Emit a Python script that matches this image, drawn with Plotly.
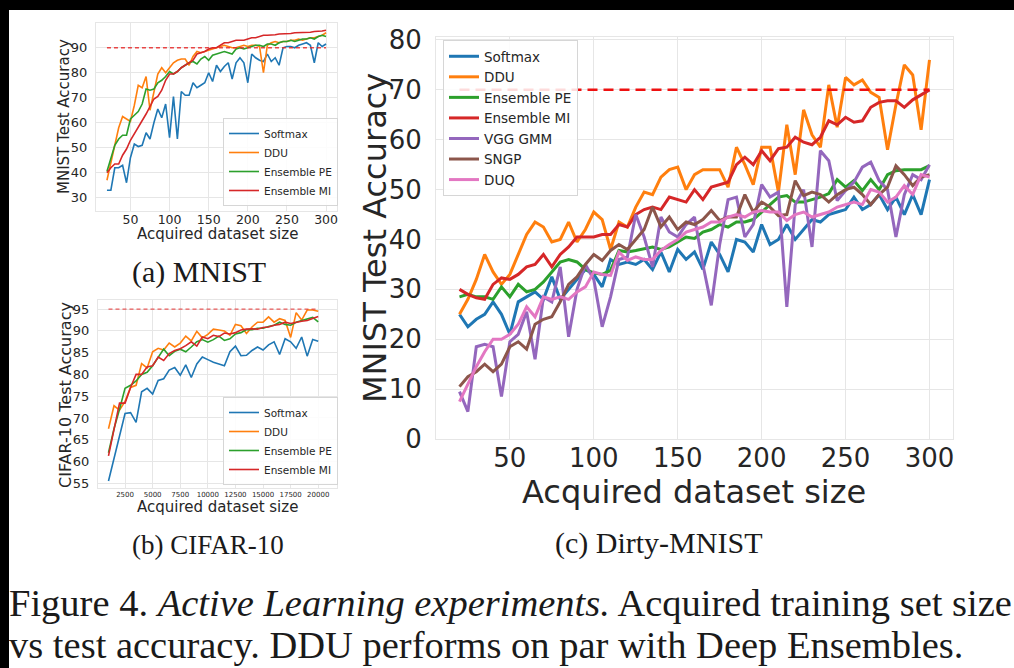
import plotly.graph_objects as go

# ---------------- data ----------------
mnist_x = list(range(20, 301, 5))
mnist_softmax = [33, 33, 42, 42, 43, 36, 46, 51.5, 50.5, 51,
                 56, 53.5, 60, 65.5, 62, 67.5, 54, 70.5, 53.5, 72.5,
                 71, 71, 76, 74, 75, 76, 80, 76.5, 83, 80.5,
                 82.5, 84, 77.5, 84, 86, 84, 76, 87.5, 86, 85,
                 84.5, 87.5, 84.5, 86, 83, 90, 90.5, 90.5, 90, 91,
                 91.5, 92, 91, 84, 92, 90.5, 91.5]
mnist_ddu = [37, 44, 52, 58, 62.5, 61.5, 60.5, 67, 75, 74,
             78.5, 65, 73, 79.5, 82, 80, 82, 84, 85, 85.5,
             85.5, 83, 86.5, 88.5, 88, 88.5, 89, 89.5, 90, 90.5,
             91, 90.5, 90, 90, 90.5, 91, 90.5, 91, 91, 90.5,
             80, 91, 92, 92.5, 92, 92.5, 92.5, 93, 93, 93.5,
             93, 93.5, 94, 94, 94.5, 95, 96]
mnist_ens_pe = [40.5, 46, 51, 53.5, 55, 55, 61.5, 63, 64.5, 67.5,
                73.5, 73, 73.5, 76, 77, 78.5, 80.5, 79.5, 80.5, 82,
                83, 84, 84.5, 83.5, 85.5, 86.5, 85, 87, 87.5, 88,
                88.5, 88, 87.5, 89.5, 90, 89.5, 90, 90.5, 91, 91,
                90.5, 91.5, 91.5, 91, 92, 92.5, 92.5, 93, 92.5, 93,
                93.5, 93.5, 94, 93.5, 94.5, 95, 94.5]
mnist_ens_mi = [40, 42, 43.5, 43.5, 47, 49.5, 53, 55.5, 58.5, 61,
                63.5, 66.5, 69.5, 70.5, 73, 77, 79.5, 79.5, 80.5, 82,
                83, 84, 85, 87.5, 88, 88.5, 89.5, 90, 90, 91,
                92, 92, 92.5, 93, 93, 93, 93.5, 94, 94, 94.5,
                95, 95, 95, 95.2, 95.5, 95.5, 95.5, 95.7, 96, 96,
                96, 96, 96.2, 96.5, 96.5, 96.7, 97]
mnist_target = 90

cifar_x = list(range(1000, 20001, 500))
cifar_softmax = [55.5, 60.5, 66, 71, 71.2, 69, 76, 76.8, 75.5, 78.6,
                 79, 81, 81.6, 79.8, 82.2, 79.3, 82.4, 84, 83.4, 82.8,
                 82.4, 82, 85.2, 86.5, 84.3, 84.4, 85.5, 86.3, 85.6, 86.8,
                 87.5, 84.6, 88.2, 87.5, 86, 88.6, 84.2, 88, 87.6]
cifar_ddu = [67.5, 72.8, 71.8, 73.8, 77, 77.5, 82.5, 81.5, 85.2, 86,
             85.6, 87.2, 86.3, 87.2, 88.8, 87.7, 89.9, 88.4, 89.2, 90.4,
             90.2, 90, 89, 91.5, 91.2, 89.4, 90.9, 92, 92, 93.2,
             92, 92.8, 92.4, 88.5, 94.2, 92.5, 94.8, 94.8, 94.5]
cifar_ens_pe = [62, 67.5, 72, 76.8, 77.5, 78.5, 80, 80.5, 82, 84,
                85.8, 84.3, 85.3, 85.8, 85.2, 86.3, 87.5, 88, 87.4, 88,
                88.8, 87.8, 88.2, 89.3, 89.6, 90.3, 90.3, 90.6, 90.6, 91,
                91.3, 92, 91.5, 91.3, 92, 92.4, 92.7, 93.1, 92.1]
cifar_ens_mi = [61.3, 67.5, 73.4, 73.4, 77, 80, 80, 81.7, 82, 84,
                83.2, 84.8, 85.5, 85.9, 86.6, 87.5, 86.5, 88.6, 88.2, 89,
                88.7, 89.5, 89.3, 89.6, 90.2, 90.4, 90.5, 90.4, 90.8, 90.9,
                91.3, 91.5, 92, 91.7, 92, 92.2, 92.4, 92.8, 93.3]
cifar_target = 95

dirty_x = list(range(20, 301, 5))
dirty_softmax = [25, 22.5, 24, 25, 27.5, 25, 21, 27.5, 28.5, 29.5,
                 28, 32.5, 28, 30, 32, 34, 33, 30.5, 36, 35,
                 35.5, 35, 36, 34, 37.5, 33.5, 38, 36, 37.5, 34,
                 39.5, 37, 33.5, 40, 39.5, 37.5, 43, 39, 40, 43,
                 40, 42, 44, 43.5, 45, 45.5, 46, 48.5, 46, 47,
                 49, 46, 48.5, 45, 49, 45, 52]
dirty_ddu = [25, 28, 32, 37, 33.5, 31, 33, 37, 41, 43.5,
             42.5, 39.5, 40, 43.5, 39.5, 42, 45.5, 44, 38, 43.5,
             42.5, 46.5, 49.5, 49, 52.5, 54, 54.5, 50, 53, 54,
             54, 54, 50.5, 58.5, 55, 51, 58.5, 58.5, 49.5, 63,
             53, 66, 61, 58.5, 71, 62.5, 72.5, 71, 72, 69.5,
             68.5, 58, 67, 75, 73, 62, 76]
dirty_ens_pe = [28.5, 29, 28.5, 28.5, 28, 30.5, 28.5, 31, 29.5, 30,
                31.5, 33.5, 35.5, 36, 35.5, 34, 33.3, 33, 33.8, 37.8,
                37.5, 37.8, 38.2, 38.5, 38, 38.5, 39.5, 40.5, 40.2, 41.5,
                42, 43, 42.5, 43.5, 43.5, 44, 45.5, 47, 48.5, 48.8,
                47.5, 47.5, 48, 48.5, 49.2, 52, 50.5, 51.8, 49.8, 52,
                50, 53, 53.8, 54, 54, 54, 54.8]
dirty_ens_mi = [30, 29, 28.3, 28, 31, 32.3, 32, 33, 34.5, 35,
                37, 34.5, 37, 38.5, 40.5, 40.5, 40.5, 41, 41, 43,
                42.5, 45, 46, 46.5, 46, 48.5, 48, 47.5, 50, 48,
                50.5, 51, 51.5, 55, 56.5, 55, 57.8, 55.8, 58.2, 58.5,
                60.5, 59.5, 59, 60.5, 63.8, 63, 64.5, 63.5, 63.8, 66.5,
                67.5, 67.8, 67.8, 66.5, 68, 69, 70]
dirty_vgg_gmm = [9.5, 5.5, 18.5, 19, 18.5, 8.5, 19.5, 21, 25.5, 16,
                 28.5, 27.5, 34.5, 20.5, 30, 35, 32, 22.5, 28.5, 36,
                 36.5, 45, 40.5, 34.5, 44.5, 41.5, 40.5, 43, 44.5, 35,
                 26.8, 39, 48, 48.5, 40.5, 43, 51, 48.5, 49.5, 26.5,
                 47, 50, 38.5, 57.8, 55.8, 47.8, 49.8, 51.5, 54.5, 55.5,
                 51.8, 50, 40.5, 49, 53, 52, 55]
dirty_sngp = [10.5, 12.5, 13.5, 15, 13.5, 15, 18.5, 19.5, 18, 23,
              24, 24.5, 27.5, 31, 32.5, 35, 37, 35.8, 37.8, 39,
              38, 40, 42, 46.5, 42.5, 44.5, 42, 43.5, 43, 44,
              45.8, 43.8, 44.5, 44.5, 49, 45.5, 47.5, 46.5, 44.8, 45,
              51.8, 48.8, 49.5, 49, 47.5, 49, 50, 50.5, 49, 47,
              49, 50.5, 54.8, 53, 50.8, 52.5, 53]
dirty_duq = [7.5, 11, 14.5, 17.5, 20, 20, 21, 23, 26.5, 24.5,
             28.5, 28, 28.5, 28, 29.5, 30.5, 33.5, 33, 32.8, 37.5,
             35.8, 36.5, 36, 36, 37.8, 39, 40, 41.5, 42, 42.5,
             43.5, 43.5, 44.5, 45, 44.5, 45.5, 45.8, 45.5, 45.5, 43.8,
             45, 45.5, 44.5, 45, 45.5, 46.5, 47, 47.5, 47, 50,
             49.5, 47.5, 48.5, 50.8, 49, 53, 52.5]
dirty_target = 70

mnist_yticks = [30, 40, 50, 60, 70, 80, 90]
mnist_xticks = [50, 100, 150, 200, 250, 300]
cifar_yticks = [55, 60, 65, 70, 75, 80, 85, 90, 95]
cifar_xticks = [2500, 5000, 7500, 10000, 12500, 15000, 17500, 20000]
dirty_yticks = [0, 10, 20, 30, 40, 50, 60, 70, 80]
dirty_xticks = [50, 100, 150, 200, 250, 300]

# ---------------- styling ----------------
W, H = 1014, 668
C_BLUE, C_ORANGE, C_GREEN, C_RED = "#1f77b4", "#ff7f0e", "#2ca02c", "#d62728"
C_PURPLE, C_BROWN, C_PINK = "#9467bd", "#8c564b", "#e377c2"
GRID = "#e6e6e6"
TXT = "#262626"
SANS = "DejaVu Sans"
SERIF = "Liberation Serif"


def px_x(p):
    return p / W


def px_y(p):
    return 1 - p / H


fig = go.Figure()

# (a) MNIST
for name, ys, col in [("Softmax", mnist_softmax, C_BLUE), ("DDU", mnist_ddu, C_ORANGE),
                      ("Ensemble PE", mnist_ens_pe, C_GREEN), ("Ensemble MI", mnist_ens_mi, C_RED)]:
    fig.add_trace(go.Scatter(x=mnist_x, y=ys, mode="lines", name=name,
                             line=dict(color=col, width=1.6), xaxis="x", yaxis="y",
                             legend="legend"))
fig.add_trace(go.Scatter(x=[mnist_x[0], mnist_x[-1]], y=[mnist_target, mnist_target],
                         mode="lines", line=dict(color="rgba(230,40,40,0.85)", width=1.3, dash="4px,3px"),
                         showlegend=False, xaxis="x", yaxis="y"))

# (b) CIFAR-10
for name, ys, col in [("Softmax", cifar_softmax, C_BLUE), ("DDU", cifar_ddu, C_ORANGE),
                      ("Ensemble PE", cifar_ens_pe, C_GREEN), ("Ensemble MI", cifar_ens_mi, C_RED)]:
    fig.add_trace(go.Scatter(x=cifar_x, y=ys, mode="lines", name=name,
                             line=dict(color=col, width=1.6), xaxis="x2", yaxis="y2",
                             legend="legend2"))
fig.add_trace(go.Scatter(x=[cifar_x[0], cifar_x[-1]], y=[cifar_target, cifar_target],
                         mode="lines", line=dict(color="rgba(230,40,40,0.75)", width=1.3, dash="4px,3px"),
                         showlegend=False, xaxis="x2", yaxis="y2"))

# (c) Dirty-MNIST
for name, ys, col in [("Softmax", dirty_softmax, C_BLUE), ("DDU", dirty_ddu, C_ORANGE),
                      ("Ensemble PE", dirty_ens_pe, C_GREEN), ("Ensemble MI", dirty_ens_mi, C_RED),
                      ("VGG GMM", dirty_vgg_gmm, C_PURPLE), ("SNGP", dirty_sngp, C_BROWN),
                      ("DUQ", dirty_duq, C_PINK)]:
    fig.add_trace(go.Scatter(x=dirty_x, y=ys, mode="lines", name=name,
                             line=dict(color=col, width=3), xaxis="x3", yaxis="y3",
                             legend="legend3"))
fig.add_trace(go.Scatter(x=[dirty_x[0], dirty_x[-1]], y=[dirty_target, dirty_target],
                         mode="lines", line=dict(color="#ee1111", width=2.5, dash="10px,6px"),
                         showlegend=False, xaxis="x3", yaxis="y3"))


def axis(domain, rng, ticks, size, anchor, standoff):
    return dict(domain=domain, range=rng, tickvals=ticks, tickformat="d",
                showgrid=True, gridcolor=GRID, gridwidth=1, zeroline=False,
                showline=True, linecolor=GRID, linewidth=1, mirror=True,
                ticks="", tickfont=dict(family=SANS, size=size, color=TXT),
                anchor=anchor, ticklabelstandoff=standoff, fixedrange=True,
                automargin=False)


legend_common = dict(bgcolor="rgba(255,255,255,0.85)", bordercolor="#d6d6d6", borderwidth=1,
                     xanchor="left", tracegroupgap=0)

fig.update_layout(
    width=W, height=H,
    margin=dict(l=0, r=0, t=0, b=0, pad=0, autoexpand=False),
    paper_bgcolor="black", plot_bgcolor="white",
    showlegend=True,
    xaxis=axis([px_x(96), px_x(337)], [6, 314], mnist_xticks, 12.5, "y", -3),
    yaxis=axis([px_y(211), px_y(23)], [24.7, 99.9], mnist_yticks, 13, "x", 5),
    xaxis2=axis([px_x(98), px_x(337)], [50, 21700], cifar_xticks, 7, "y2", 0),
    yaxis2=axis([px_y(488), px_y(300)], [53.9, 97.1], cifar_yticks, 13, "x2", 5),
    xaxis3=axis([px_x(436), px_x(953)], [6, 314], dirty_xticks, 26, "y3", -4),
    yaxis3=axis([px_y(439), px_y(37)], [0, 80.6], dirty_yticks, 26, "x3", 8),
    legend=dict(**legend_common, x=px_x(223), y=px_y(206), yanchor="bottom",
                font=dict(family=SANS, size=10.5, color=TXT)),
    legend2=dict(**legend_common, x=px_x(223), y=px_y(485), yanchor="bottom",
                 font=dict(family=SANS, size=10.5, color=TXT)),
    legend3=dict(**legend_common, x=px_x(443), y=px_y(40), yanchor="top",
                 font=dict(family=SANS, size=13.5, color=TXT)),
)

# white page behind the black frame
fig.add_shape(type="rect", xref="paper", yref="paper", x0=px_x(9), x1=1.0, y0=0.0, y1=px_y(10),
              fillcolor="white", line=dict(width=0), layer="below")


def label(text, x, y, size, family=SANS, angle=0, xanchor="center"):
    fig.add_annotation(text=text, x=px_x(x), y=px_y(y), xref="paper", yref="paper",
                       showarrow=False, textangle=angle, xanchor=xanchor, yanchor="middle",
                       borderpad=0,
                       font=dict(family=family, size=size, color="#1a1a1a" if family == SERIF else TXT))


# axis titles
label("MNIST Test Accuracy", 64, 117, 15, angle=-90)
label("Acquired dataset size", 217, 234, 15)
label("CIFAR-10 Test Accuracy", 65, 395, 16, angle=-90)
label("Acquired dataset size", 217, 507, 15)
label("MNIST Test Accuracy", 375, 238, 32, angle=-90)
label("Acquired dataset size", 694, 492, 32)

# sub-figure captions
label("(a) MNIST", 199, 272, 30, family=SERIF)
label("(b) CIFAR-10", 208, 545, 27, family=SERIF)
label("(c) Dirty-MNIST", 658, 543, 30, family=SERIF)

# figure caption
label("Figure 4. <i>Active Learning experiments.</i> Acquired training set size", 8, 603, 38.5,
      family=SERIF, xanchor="left")
label("vs test accuracy. DDU performs on par with Deep Ensembles.", 8, 645, 38.5,
      family=SERIF, xanchor="left")

fig.write_html("out.html", config={"displayModeBar": False},
               post_script=["document.body.style.margin='0';"
                            "document.body.style.overflow='hidden';"])
